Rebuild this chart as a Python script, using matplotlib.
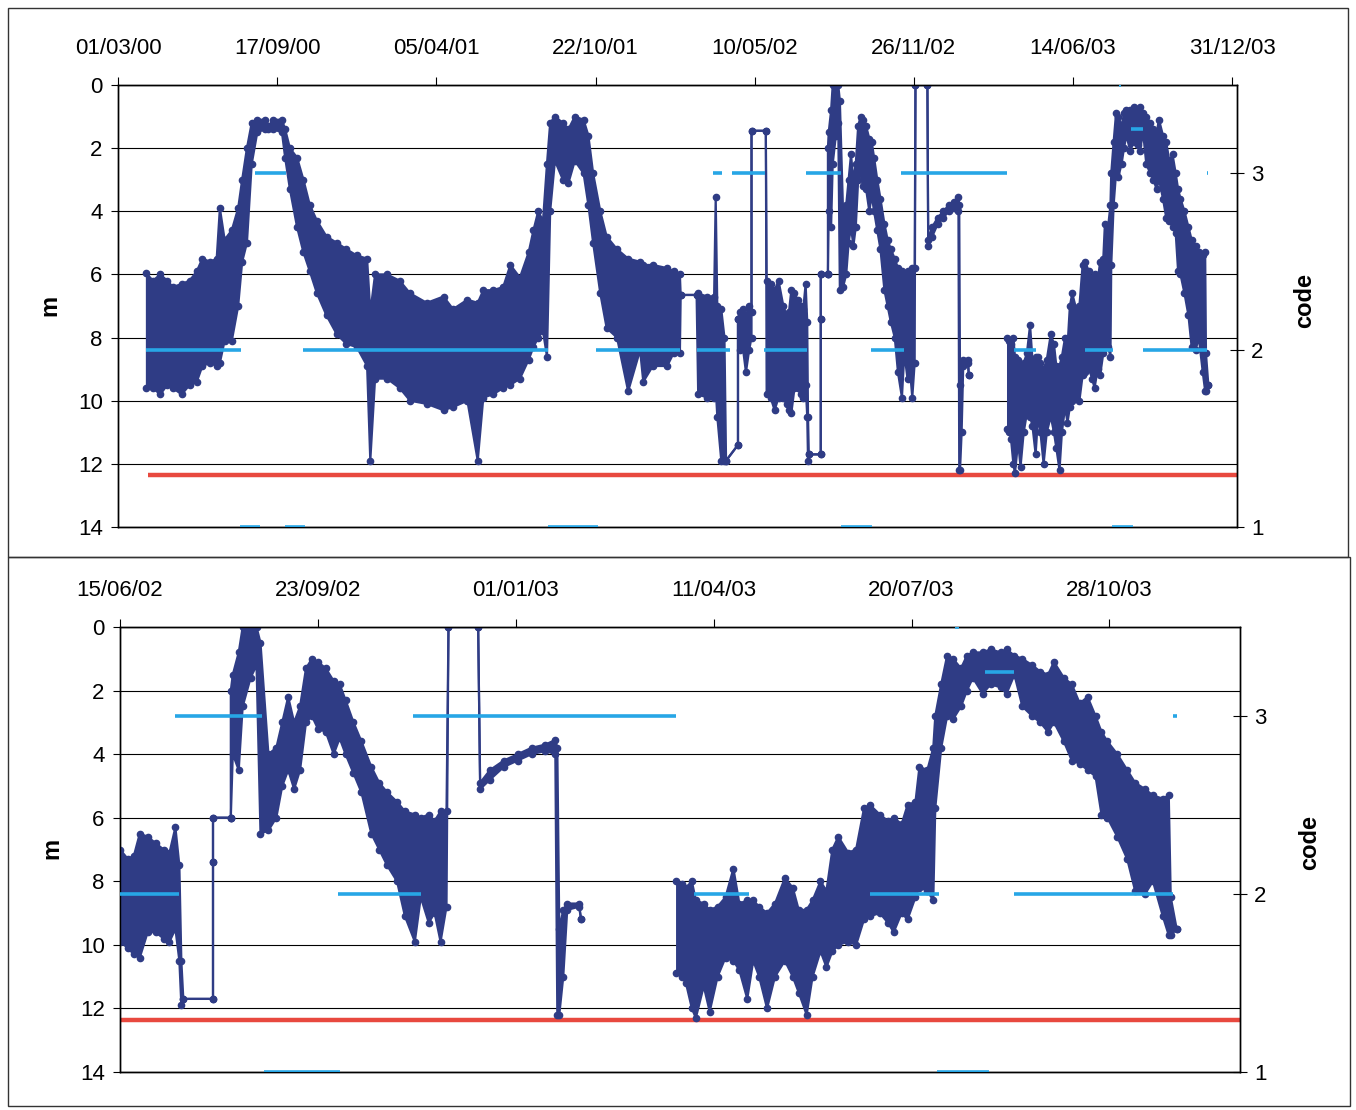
import pandas as pd
import matplotlib
matplotlib.use('Agg')
import matplotlib.pyplot as plt
import matplotlib.dates as mdates
from matplotlib.patches import Rectangle

plt.rcParams['font.family'] = ['Liberation Sans', 'DejaVu Sans']

nan = float('nan')

# depth readings (m below surface): shallow and deep edge of the daily spread
depth_dates = [
    '2000-04-05', '2000-04-14', '2000-04-23', '2000-05-02', '2000-05-09', '2000-05-20',
    '2000-05-30', '2000-06-08', '2000-06-15', '2000-06-25', '2000-07-03', '2000-07-07',
    '2000-07-13', '2000-07-22', '2000-07-30', '2000-08-04', '2000-08-10', '2000-08-16',
    '2000-08-23', '2000-09-02', '2000-09-06', '2000-09-12', '2000-09-23', '2000-09-27',
    '2000-10-03', '2000-10-12', '2000-10-20', '2000-10-28', '2000-11-06', '2000-11-18',
    '2000-12-01', '2000-12-13', '2000-12-26', '2001-01-08', '2001-01-12', '2001-01-18',
    '2001-02-02', '2001-02-18', '2001-03-03', '2001-03-24', '2001-04-14', '2001-04-26',
    '2001-05-14', '2001-05-27', '2001-06-03', '2001-06-15', '2001-06-28', '2001-07-07',
    '2001-07-19', '2001-07-30', '2001-08-05', '2001-08-11', '2001-08-17', '2001-08-22',
    '2001-08-26', '2001-09-01', '2001-09-11', '2001-09-18', '2001-09-26', '2001-10-07',
    '2001-10-13', '2001-10-19', '2001-10-28', '2001-11-05', '2001-11-18', '2001-12-02',
    '2001-12-17', '2001-12-21', '2002-01-02', '2002-01-20', '2002-01-28', '2002-02-05',
    '2002-02-06', '2002-02-26', '2002-02-28', '2002-03-11', '2002-03-20', '2002-03-22',
    '2002-03-24', '2002-03-29', '2002-04-02', '2002-04-04', '2002-04-19', '2002-04-19',
    '2002-04-21', '2002-04-25', '2002-04-29', '2002-05-03', '2002-05-06', '2002-05-06',
    '2002-05-24', '2002-05-25', '2002-05-30', '2002-06-04', '2002-06-09', '2002-06-15',
    '2002-06-19', '2002-06-22', '2002-06-25', '2002-06-29', '2002-07-03', '2002-07-07',
    '2002-07-10', '2002-07-13', '2002-07-15', '2002-07-16', '2002-07-17', '2002-08-01',
    '2002-08-01', '2002-08-01', '2002-08-10', '2002-08-10', '2002-08-11', '2002-08-14',
    '2002-08-16', '2002-08-20', '2002-08-23', '2002-08-25', '2002-08-29', '2002-09-02',
    '2002-09-05', '2002-09-08', '2002-09-11', '2002-09-14', '2002-09-17', '2002-09-20',
    '2002-09-23', '2002-09-27', '2002-10-01', '2002-10-04', '2002-10-07', '2002-10-11',
    '2002-10-15', '2002-10-20', '2002-10-24', '2002-10-28', '2002-11-02', '2002-11-06',
    '2002-11-11', '2002-11-14', '2002-11-18', '2002-11-21', '2002-11-24', '2002-11-27',
    '2002-11-28', '2002-12-13', '2002-12-14', '2002-12-19', '2002-12-26', '2003-01-02',
    '2003-01-09', '2003-01-16', '2003-01-21', '2003-01-22', '2003-01-23', '2003-01-25',
    '2003-01-27', '2003-02-02', '2003-02-03', '2003-03-01', '2003-03-23', '2003-03-26',
    '2003-03-28', '2003-03-31', '2003-04-02', '2003-04-06', '2003-04-09', '2003-04-13',
    '2003-04-17', '2003-04-21', '2003-04-24', '2003-04-28', '2003-05-01', '2003-05-04',
    '2003-05-08', '2003-05-12', '2003-05-17', '2003-05-21', '2003-05-24', '2003-05-28',
    '2003-05-31', '2003-06-04', '2003-06-07', '2003-06-10', '2003-06-13', '2003-06-18',
    '2003-06-22', '2003-06-26', '2003-06-29', '2003-07-04', '2003-07-08', '2003-07-11',
    '2003-07-15', '2003-07-18', '2003-07-22', '2003-07-24', '2003-07-28', '2003-07-31',
    '2003-08-01', '2003-08-04', '2003-08-07', '2003-08-10', '2003-08-14', '2003-08-17',
    '2003-08-20', '2003-08-25', '2003-08-29', '2003-09-03', '2003-09-06', '2003-09-10',
    '2003-09-14', '2003-09-19', '2003-09-23', '2003-09-27', '2003-09-30', '2003-10-05',
    '2003-10-09', '2003-10-13', '2003-10-17', '2003-10-21', '2003-10-24', '2003-10-27',
    '2003-11-01', '2003-11-06', '2003-11-10', '2003-11-15', '2003-11-19', '2003-11-24',
    '2003-11-27', '2003-11-28', '2003-12-01',
]
depth_shallow = [
    5.95, 6.2, 6.0, 6.2, 6.4, 6.3,
    6.2, 5.9, 5.5, 5.6, 5.5, 3.9,
    4.9, 4.6, 3.9, 3.0, 2.0, 1.2,
    1.1, 1.1, 1.3, 1.1, 1.1, 1.4,
    2.0, 2.3, 3.0, 3.8, 4.3, 4.8,
    5.0, 5.2, 5.4, 5.5, 7.2, 6.0,
    6.0, 6.2, 6.6, 6.9, 6.7, 7.1,
    6.8, 6.9, 6.5, 6.5, 6.4, 5.7,
    6.1, 5.3, 4.6, 4.0, 4.3, 2.5,
    1.2, 1.0, 1.2, 1.4, 1.0, 1.1,
    1.6, 2.8, 4.0, 4.8, 5.2, 5.5,
    5.6, 5.7, 5.7, 5.8, 5.9, 6.0,
    6.65, 6.65, 6.6, 6.7, 6.7, 3.55,
    7.0, 7.1, 8.0, 11.9, 11.4, 7.4,
    7.2, 7.1, 7.3, 7.0, 7.2, 1.45,
    1.45, 6.2, 6.3, 6.5, 6.2, 7.0,
    7.3, 7.2, 6.5, 6.6, 6.8, 7.0,
    7.1, 6.3, 7.5, 10.5, 11.7, 11.7,
    7.4, 6.0, 6.0, 2.0, 1.5, 0.8,
    0.0, 0.0, 0.0, 0.5, 4.0, 3.8,
    3.0, 2.2, 3.0, 2.5, 1.3, 1.0,
    1.1, 1.3, 1.7, 1.8, 2.3, 3.0,
    3.6, 4.4, 4.9, 5.2, 5.5, 5.8,
    5.9, 6.0, 5.9, 6.1, 5.8, 5.8,
    0.0, 0.0, 4.9, 4.5, 4.2, 4.0,
    3.8, 3.7, 3.55, 3.8, 9.5, 8.9,
    8.7, 8.7, 9.2, nan, 8.0, 8.1,
    8.2, 8.0, 8.6, 8.7, 8.9, 8.8,
    8.5, 7.6, 8.7, 8.6, 8.6, 8.8,
    9.0, 8.7, 7.9, 8.2, 8.9, 8.9,
    8.6, 8.0, 8.3, 7.0, 6.6, 7.1,
    7.0, 5.7, 5.6, 5.9, 6.1, 6.0,
    6.2, 5.6, 5.5, 4.4, 4.5, 3.8,
    2.8, 1.8, 0.9, 1.0, 1.3, 0.9,
    0.8, 0.8, 0.7, 0.8, 0.7, 0.9,
    1.0, 1.2, 1.4, 1.5, 1.1, 1.6,
    1.8, 2.4, 2.2, 2.8, 3.3, 3.6,
    4.0, 4.5, 4.9, 5.1, 5.3, 5.4,
    5.3, 8.5, 9.5,
]
depth_deep = [
    9.6, 9.6, 9.8, 9.5, 9.6, 9.8,
    9.5, 9.4, 8.9, 8.8, 8.9, 8.8,
    8.1, 8.1, 7.0, 5.6, 5.0, 2.5,
    1.5, 1.4, 1.4, 1.4, 1.5, 2.3,
    3.3, 4.5, 5.3, 5.9, 6.6, 7.3,
    7.9, 8.2, 8.3, 8.9, 11.9, 9.3,
    9.3, 9.6, 10.0, 10.1, 10.3, 10.2,
    10.0, 11.9, 9.9, 9.8, 9.6, 9.5,
    9.3, 8.7, 8.3, 8.0, 7.8, 8.6,
    4.0, 2.4, 3.0, 3.1, 2.4, 2.8,
    3.8, 5.0, 6.6, 7.7, 8.0, 9.7,
    8.4, 9.4, 8.9, 8.9, 8.5, 8.5,
    6.65, 6.65, 9.8, 9.9, 9.9, 9.6,
    10.5, 11.9, 11.9, 11.9, 11.4, 7.4,
    8.4, 8.3, 9.1, 8.4, 8.0, 1.45,
    1.45, 9.8, 9.9, 10.3, 9.9, 9.9,
    10.1, 10.3, 10.4, 9.6, 9.6, 9.8,
    9.9, 9.5, 10.5, 11.9, 11.7, 11.7,
    7.4, 6.0, 6.0, 6.0, 4.0, 4.5,
    2.5, 1.6, 1.2, 6.5, 6.4, 6.0,
    5.0, 4.5, 5.1, 4.5, 3.0, 2.8,
    3.2, 3.3, 4.0, 3.5, 4.0, 4.6,
    5.2, 6.5, 7.0, 7.5, 8.0, 9.1,
    9.9, 8.5, 9.3, 9.0, 9.9, 8.8,
    0.0, 0.0, 5.1, 4.8, 4.4, 4.2,
    4.0, 3.9, 4.0, 12.2, 12.2, 11.0,
    8.9, 8.8, 9.2, nan, 10.9, 11.0,
    11.2, 12.0, 12.3, 11.3, 12.1, 11.0,
    10.4, 10.5, 10.8, 11.7, 10.5, 11.0,
    12.0, 11.0, 10.5, 11.0, 11.5, 12.2,
    11.0, 10.2, 10.7, 10.2, 10.0, 9.9,
    10.0, 9.2, 9.1, 9.0, 9.3, 9.6,
    9.0, 9.2, 8.5, 8.2, 8.3, 8.6,
    5.7, 3.8, 2.8, 2.9, 2.5, 2.0,
    1.6, 2.1, 1.8, 1.9, 2.1, 1.5,
    2.5, 2.8, 3.0, 3.3, 3.0, 3.6,
    4.2, 4.3, 4.5, 4.7, 5.9, 6.0,
    6.6, 7.3, 8.3, 8.4, 8.0, 9.1,
    9.7, 9.7, 9.5,
]

# status code periods (right axis)
code_start = ['2000-04-05', '2000-08-01', '2000-08-20', '2000-09-27', '2000-10-20',
              '2001-08-23', '2001-10-22', '2002-02-27', '2002-03-19', '2002-04-12',
              '2002-05-22', '2002-07-13', '2002-08-27', '2002-10-03', '2002-11-10',
              '2003-04-01', '2003-06-29', '2003-08-02', '2003-08-11', '2003-08-26',
              '2003-09-10', '2003-11-29']
code_end = ['2000-08-03', '2000-08-26', '2000-09-28', '2000-10-22', '2001-08-23',
            '2001-10-25', '2002-02-05', '2002-04-09', '2002-03-30', '2002-05-23',
            '2002-07-15', '2002-08-26', '2002-10-04', '2002-11-14', '2003-03-23',
            '2003-04-29', '2003-08-03', '2003-08-28', '2003-08-13', '2003-09-10',
            '2003-11-29', '2003-12-01']
code_value = [2, 1, 3, 1, 2,
              1, 2, 2, 3, 3,
              2, 3, 1, 2, 3,
              2, 2, 1, 3.5, 3.25,
              2, 3]

# alarm depth
threshold_depth = 12.35
threshold_span = ['2000-04-08', '2004-01-06']

top_ticks = ['2000-03-01', '2000-09-17', '2001-04-05', '2001-10-22',
             '2002-05-10', '2002-11-26', '2003-06-14', '2003-12-31']
bottom_ticks = ['2002-06-15', '2002-09-23', '2003-01-01', '2003-04-11',
                '2003-07-20', '2003-10-28']

navy = '#2f3c85'
light = '#27a6e6'
red = '#e8493f'

W, H = 1356, 1110
fig = plt.figure(figsize=(W / 100, H / 100), dpi=100)

dates = pd.to_datetime(depth_dates)


def draw_panel(ax, x_from, x_to, ticks):
    ax.set_axisbelow(True)
    ax.yaxis.grid(True, color='black', linewidth=0.8)
    ax.plot(pd.to_datetime(threshold_span), [threshold_depth, threshold_depth],
            color=red, lw=3.2, solid_capstyle='butt', zorder=2)
    ax.fill_between(dates, depth_shallow, depth_deep, color=navy, lw=0, zorder=3)
    for edge in (depth_shallow, depth_deep):
        ax.plot(dates, edge, color=navy, lw=1.6, marker='o', ms=4.5, zorder=3)
    ax.set_ylim(14, 0)
    ax.set_yticks(range(0, 15, 2))
    ax.set_xlim(pd.Timestamp(x_from), pd.Timestamp(x_to))
    ax.xaxis.tick_top()
    ax.set_xticks(pd.to_datetime(ticks))
    ax.xaxis.set_major_formatter(mdates.DateFormatter('%d/%m/%y'))
    ax.tick_params(axis='x', direction='out', length=6, pad=13, labelsize=16)
    ax.tick_params(axis='y', direction='out', length=5, pad=6, labelsize=16)
    for s in ax.spines.values():
        s.set_color('black')
        s.set_linewidth(1)

    ax2 = ax.twinx()
    ax2.hlines(code_value, pd.to_datetime(code_start), pd.to_datetime(code_end),
               color=light, lw=2.6, zorder=4)
    ax2.set_ylim(1, 3.5)
    ax2.set_yticks([1, 2, 3])
    ax2.tick_params(axis='y', direction='inout', length=10, pad=5, labelsize=16)
    for s in ax2.spines.values():
        s.set_color('black')
        s.set_linewidth(1)
    return ax2


ax_top = fig.add_axes([118 / W, 1 - 527 / H, 1119 / W, 442 / H])
draw_panel(ax_top, '2000-03-01', '2004-01-06', top_ticks)

ax_bot = fig.add_axes([120 / W, 1 - 1072 / H, 1120 / W, 445 / H])
draw_panel(ax_bot, '2002-06-15', '2004-01-02', bottom_ticks)

# axis titles
for x, y, txt in [(50, 305, 'm'), (1305, 300, 'code'), (52, 848, 'm'), (1310, 842, 'code')]:
    fig.text(x / W, 1 - y / H, txt, rotation=90, fontsize=17, fontweight='bold',
             ha='center', va='center')

# frames around each panel
fig.add_artist(Rectangle((8 / W, 1 - 557 / H), 1340 / W, 549 / H, transform=fig.transFigure,
                         fill=False, ec='#333333', lw=1))
fig.add_artist(Rectangle((8 / W, 1 - 1106 / H), 1342 / W, 549 / H, transform=fig.transFigure,
                         fill=False, ec='#333333', lw=1))

fig.savefig('out.png', dpi=100)
